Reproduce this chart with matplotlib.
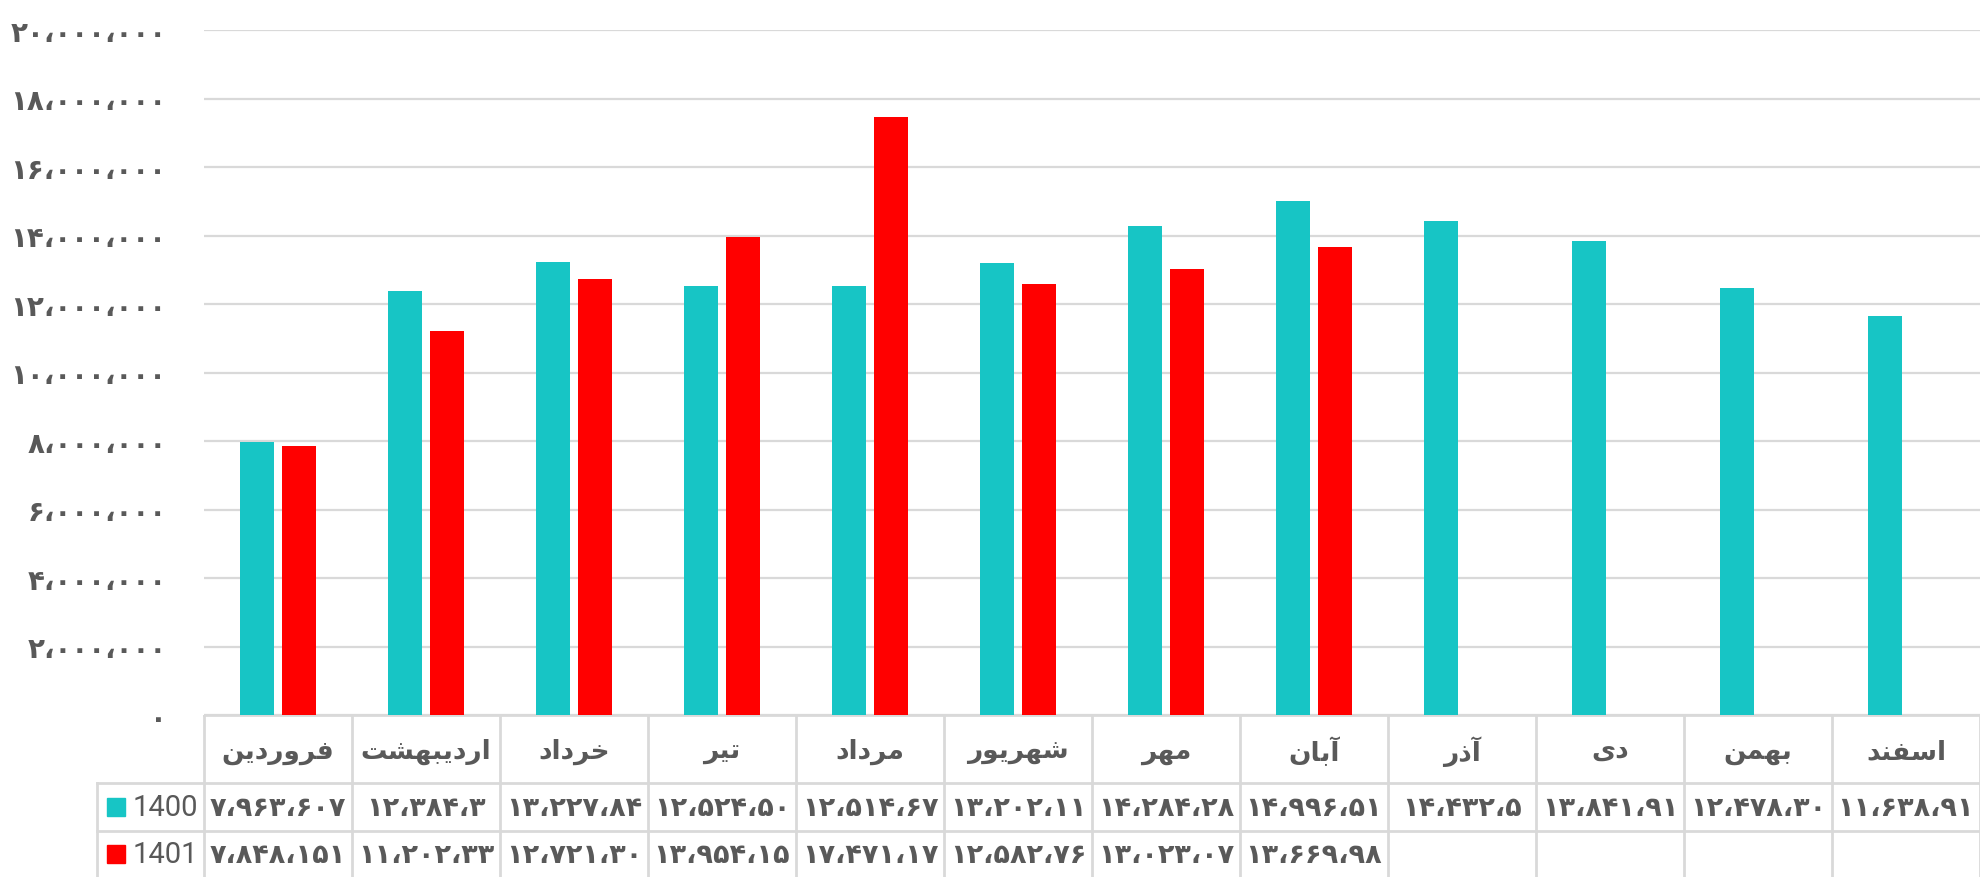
import matplotlib
matplotlib.use("Agg")
import matplotlib.pyplot as plt
import numpy as np
from matplotlib.ticker import FuncFormatter

# data
months = ['فروردین', 'اردیبهشت', 'خرداد', 'تیر', 'مرداد', 'شهریور',
          'مهر', 'آبان', 'آذر', 'دی', 'بهمن', 'اسفند']
series_names = ['1400', '1401']
values_1400 = [7963607, 12384300, 13227840, 12524500, 12514670, 13202110,
               14284280, 14996510, 14432500, 13841910, 12478300, 11638910]
values_1401 = [7848151, 11202330, 12721300, 13954150, 17471170, 12582760,
               13023070, 13669980]
# cell texts as shown in the data table (clipped by the cell)
cells_1400 = ['7,963,607', '12,384,3', '13,227,84', '12,524,50', '12,514,67',
              '13,202,11', '14,284,28', '14,996,51', '14,432,5', '13,841,91',
              '12,478,30', '11,638,91']
cells_1401 = ['7,848,151', '11,202,33', '12,721,30', '13,954,15', '17,471,17',
              '12,582,76', '13,023,07', '13,669,98']

TEAL = '#17C5C5'
RED = '#FF0000'
GRAY = '#595959'
LINE = '#D9D9D9'

# minimal arabic shaping: (isolated, final, initial, medial)
FORMS = {
    'ا': ('\uFE8D', '\uFE8E', None, None),
    'آ': ('\uFE81', '\uFE82', None, None),
    'ب': ('\uFE8F', '\uFE90', '\uFE91', '\uFE92'),
    'ت': ('\uFE95', '\uFE96', '\uFE97', '\uFE98'),
    'خ': ('\uFEA5', '\uFEA6', '\uFEA7', '\uFEA8'),
    'د': ('\uFEA9', '\uFEAA', None, None),
    'ذ': ('\uFEAB', '\uFEAC', None, None),
    'ر': ('\uFEAD', '\uFEAE', None, None),
    'س': ('\uFEB1', '\uFEB2', '\uFEB3', '\uFEB4'),
    'ش': ('\uFEB5', '\uFEB6', '\uFEB7', '\uFEB8'),
    'ف': ('\uFED1', '\uFED2', '\uFED3', '\uFED4'),
    'م': ('\uFEE1', '\uFEE2', '\uFEE3', '\uFEE4'),
    'ن': ('\uFEE5', '\uFEE6', '\uFEE7', '\uFEE8'),
    'ه': ('\uFEE9', '\uFEEA', '\uFEEB', '\uFEEC'),
    'و': ('\uFEED', '\uFEEE', None, None),
    'ی': ('\uFEEF', '\uFEF0', '\uFEF3', '\uFEF4'),
}


def shape(word):
    out = []
    for i, ch in enumerate(word):
        f = FORMS[ch]
        prev_joins = i > 0 and FORMS[word[i - 1]][2] is not None
        next_joins = i < len(word) - 1 and f[2] is not None
        if prev_joins and next_joins:
            out.append(f[3])
        elif prev_joins:
            out.append(f[1])
        elif next_joins:
            out.append(f[2])
        else:
            out.append(f[0])
    return ''.join(reversed(out))


FA_DIGITS = str.maketrans('0123456789,', '۰۱۲۳۴۵۶۷۸۹،')


def fa_num(s):
    return s.translate(FA_DIGITS)


W, H = 1980, 878
fig = plt.figure(figsize=(W / 100, H / 100), dpi=100)

# pixel layout
x0, x1 = 204, 1980
y_top, y_axis = 31, 716
legend_x = 97
row_y = [716, 784, 832, 878]

ax = fig.add_axes([x0 / W, 1 - y_axis / H, (x1 - x0) / W, (y_axis - y_top) / H])
n = len(months)
x = np.arange(n)
bw = 0.235
off = 0.142
ax.bar(x[:len(values_1400)] - off, values_1400, bw, color=TEAL, zorder=3)
ax.bar(x[:len(values_1401)] + off, values_1401, bw, color=RED, zorder=3)
ax.set_xlim(-0.5, n - 0.5)
ax.set_ylim(0, 20000000)
ax.set_yticks(np.arange(0, 20000001, 2000000))
ax.yaxis.set_major_formatter(FuncFormatter(lambda v, p: fa_num(f'{int(v):,}')))
ax.grid(axis='y', color=LINE, linewidth=1.6, zorder=0)
ax.set_xticks([])
for s in ax.spines.values():
    s.set_visible(False)
ax.tick_params(axis='y', length=0, pad=27, labelcolor=GRAY)
for lab in ax.get_yticklabels():
    lab.set_fontfamily('DejaVu Sans')
    lab.set_fontweight('bold')
    lab.set_fontsize(20)

# data table below the axis
tab = fig.add_axes([0, 0, 1, 1 - y_axis / H + 0.0001])
tab.set_xlim(0, W)
tab.set_ylim(H, y_axis)
tab.axis('off')
colw = (x1 - x0) / n
lw = 2
tab.plot([x0, x1], [row_y[0], row_y[0]], color=LINE, lw=lw)
for y in row_y[1:3]:
    tab.plot([legend_x, x1], [y, y], color=LINE, lw=lw)
tab.plot([legend_x, legend_x], [row_y[1], H], color=LINE, lw=lw)
for i in range(n + 1):
    xv = x0 + i * colw
    tab.plot([xv, xv], [row_y[0], H], color=LINE, lw=lw)

for i, m in enumerate(months):
    cx = x0 + (i + 0.5) * colw
    tab.text(cx, (row_y[0] + row_y[1]) / 2 + 2, shape(m), ha='center', va='center',
             fontsize=19, fontweight='bold', color=GRAY, family='DejaVu Sans')
for r, cells in enumerate([cells_1400, cells_1401]):
    yc = (row_y[r + 1] + row_y[r + 2]) / 2 + 1
    for i, c in enumerate(cells):
        tab.text(x0 + (i + 0.5) * colw, yc, fa_num(c), ha='center', va='center',
                 fontsize=19.5, fontweight='bold', color=GRAY, family='DejaVu Sans')

for r, (name, col) in enumerate(zip(series_names, [TEAL, RED])):
    yc = (row_y[r + 1] + row_y[r + 2]) / 2
    tab.add_patch(plt.Rectangle((107, yc - 9), 18, 18, color=col))
    tab.text(133, yc, name, ha='left', va='center', fontsize=21, color=GRAY,
             family='Roboto')

fig.savefig('out.png', dpi=100)
